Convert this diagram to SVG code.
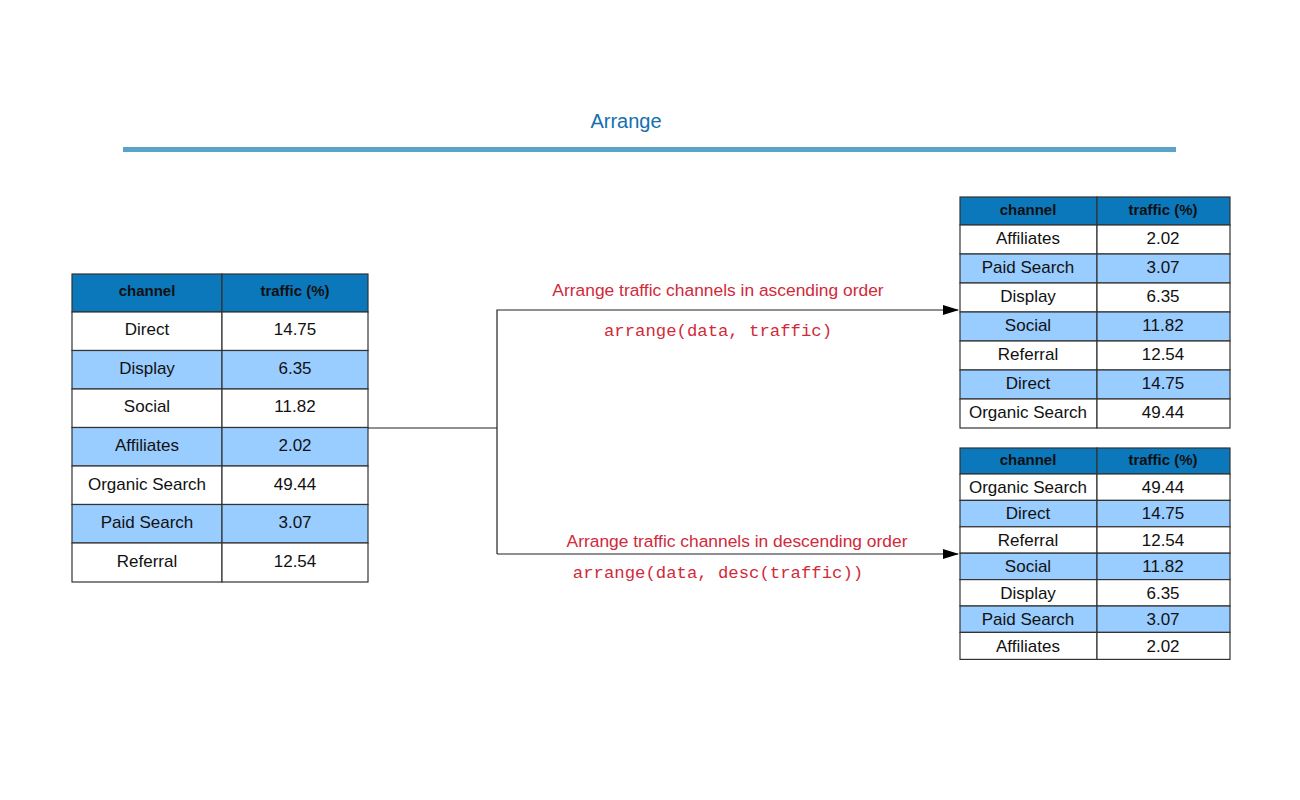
<svg xmlns="http://www.w3.org/2000/svg" width="1300" height="800" viewBox="0 0 1300 800">
<defs>
<marker id="arr" markerWidth="16" markerHeight="10" refX="15" refY="5" orient="auto" markerUnits="userSpaceOnUse">
<path d="M0,0 L16,5 L0,10 Z" fill="#000"/>
</marker>
<style>
.hd{fill:#0b78bc;stroke:#333;stroke-width:1.2}
.w{fill:#fff;stroke:#333;stroke-width:1.2}
.b{fill:#99ccff;stroke:#333;stroke-width:1.2}
.ht{font-family:"Liberation Sans",Arial,sans-serif;font-weight:bold;font-size:15px;fill:#111;text-anchor:middle}
.t{font-family:"Liberation Sans",Arial,sans-serif;font-size:17px;fill:#111;text-anchor:middle}
.lbl{font-family:"Liberation Sans",Arial,sans-serif;font-size:17.4px;fill:#d12a3a;text-anchor:middle}
.code{font-family:"Liberation Mono","Courier New",monospace;font-size:17.3px;fill:#d12a3a;text-anchor:middle}
.con{fill:none;stroke:#222;stroke-width:1.2}
</style>
</defs>
<rect width="1300" height="800" fill="#fff"/>
<g id="title">
<text x="626" y="128" font-family="Liberation Sans,Arial,sans-serif" font-size="20" fill="#1470b0" text-anchor="middle">Arrange</text>
<rect x="123" y="147" width="1053" height="5" fill="#5ba3c9"/>
</g>
<g id="connectors">
<polyline class="con" points="368,428 497,428"/>
<polyline class="con" points="497,554 497,310 958,310" marker-end="url(#arr)"/>
<polyline class="con" points="497,554 958,554" marker-end="url(#arr)"/>
</g>
<g id="label-asc">
<text class="lbl" x="718" y="296">Arrange traffic channels in ascending order</text>
<text class="code" x="718" y="336">arrange(data, traffic)</text>
</g>
<g id="label-desc">
<text class="lbl" x="737" y="547">Arrange traffic channels in descending order</text>
<text class="code" x="718" y="578">arrange(data, desc(traffic))</text>
</g>
<g id="table-input">
<rect class="hd" x="72" y="274" width="150" height="38"/><rect class="hd" x="222" y="274" width="146" height="38"/>
<text class="ht" x="147" y="296">channel</text><text class="ht" x="295" y="296">traffic (%)</text>
<rect class="w" x="72" y="312" width="150" height="38.5"/><rect class="w" x="222" y="312" width="146" height="38.5"/>
<text class="t" x="147" y="335">Direct</text><text class="t" x="295" y="335">14.75</text>
<rect class="b" x="72" y="350.5" width="150" height="38.5"/><rect class="b" x="222" y="350.5" width="146" height="38.5"/>
<text class="t" x="147" y="374">Display</text><text class="t" x="295" y="374">6.35</text>
<rect class="w" x="72" y="389" width="150" height="38.5"/><rect class="w" x="222" y="389" width="146" height="38.5"/>
<text class="t" x="147" y="412">Social</text><text class="t" x="295" y="412">11.82</text>
<rect class="b" x="72" y="427.5" width="150" height="38.5"/><rect class="b" x="222" y="427.5" width="146" height="38.5"/>
<text class="t" x="147" y="451">Affiliates</text><text class="t" x="295" y="451">2.02</text>
<rect class="w" x="72" y="466" width="150" height="38.5"/><rect class="w" x="222" y="466" width="146" height="38.5"/>
<text class="t" x="147" y="490">Organic Search</text><text class="t" x="295" y="490">49.44</text>
<rect class="b" x="72" y="504.5" width="150" height="38.5"/><rect class="b" x="222" y="504.5" width="146" height="38.5"/>
<text class="t" x="147" y="528">Paid Search</text><text class="t" x="295" y="528">3.07</text>
<rect class="w" x="72" y="543" width="150" height="39"/><rect class="w" x="222" y="543" width="146" height="39"/>
<text class="t" x="147" y="567">Referral</text><text class="t" x="295" y="567">12.54</text>
</g>
<g id="table-asc">
<rect class="hd" x="960" y="197" width="137" height="28"/><rect class="hd" x="1097" y="197" width="133" height="28"/>
<text class="ht" x="1028" y="215">channel</text><text class="ht" x="1163" y="215">traffic (%)</text>
<rect class="w" x="960" y="225" width="137" height="29"/><rect class="w" x="1097" y="225" width="133" height="29"/>
<text class="t" x="1028" y="244">Affiliates</text><text class="t" x="1163" y="244">2.02</text>
<rect class="b" x="960" y="254" width="137" height="29"/><rect class="b" x="1097" y="254" width="133" height="29"/>
<text class="t" x="1028" y="273">Paid Search</text><text class="t" x="1163" y="273">3.07</text>
<rect class="w" x="960" y="283" width="137" height="29"/><rect class="w" x="1097" y="283" width="133" height="29"/>
<text class="t" x="1028" y="302">Display</text><text class="t" x="1163" y="302">6.35</text>
<rect class="b" x="960" y="312" width="137" height="29"/><rect class="b" x="1097" y="312" width="133" height="29"/>
<text class="t" x="1028" y="331">Social</text><text class="t" x="1163" y="331">11.82</text>
<rect class="w" x="960" y="341" width="137" height="29"/><rect class="w" x="1097" y="341" width="133" height="29"/>
<text class="t" x="1028" y="360">Referral</text><text class="t" x="1163" y="360">12.54</text>
<rect class="b" x="960" y="370" width="137" height="29"/><rect class="b" x="1097" y="370" width="133" height="29"/>
<text class="t" x="1028" y="389">Direct</text><text class="t" x="1163" y="389">14.75</text>
<rect class="w" x="960" y="399" width="137" height="29"/><rect class="w" x="1097" y="399" width="133" height="29"/>
<text class="t" x="1028" y="418">Organic Search</text><text class="t" x="1163" y="418">49.44</text>
</g>
<g id="table-desc">
<rect class="hd" x="960" y="448" width="137" height="26"/><rect class="hd" x="1097" y="448" width="133" height="26"/>
<text class="ht" x="1028" y="465">channel</text><text class="ht" x="1163" y="465">traffic (%)</text>
<rect class="w" x="960" y="474" width="137" height="26.4"/><rect class="w" x="1097" y="474" width="133" height="26.4"/>
<text class="t" x="1028" y="493">Organic Search</text><text class="t" x="1163" y="493">49.44</text>
<rect class="b" x="960" y="500.4" width="137" height="26.4"/><rect class="b" x="1097" y="500.4" width="133" height="26.4"/>
<text class="t" x="1028" y="519">Direct</text><text class="t" x="1163" y="519">14.75</text>
<rect class="w" x="960" y="526.8" width="137" height="26.4"/><rect class="w" x="1097" y="526.8" width="133" height="26.4"/>
<text class="t" x="1028" y="546">Referral</text><text class="t" x="1163" y="546">12.54</text>
<rect class="b" x="960" y="553.2" width="137" height="26.4"/><rect class="b" x="1097" y="553.2" width="133" height="26.4"/>
<text class="t" x="1028" y="572">Social</text><text class="t" x="1163" y="572">11.82</text>
<rect class="w" x="960" y="579.6" width="137" height="26.4"/><rect class="w" x="1097" y="579.6" width="133" height="26.4"/>
<text class="t" x="1028" y="599">Display</text><text class="t" x="1163" y="599">6.35</text>
<rect class="b" x="960" y="606" width="137" height="26.4"/><rect class="b" x="1097" y="606" width="133" height="26.4"/>
<text class="t" x="1028" y="625">Paid Search</text><text class="t" x="1163" y="625">3.07</text>
<rect class="w" x="960" y="632.4" width="137" height="27"/><rect class="w" x="1097" y="632.4" width="133" height="27"/>
<text class="t" x="1028" y="652">Affiliates</text><text class="t" x="1163" y="652">2.02</text>
</g>
</svg>
